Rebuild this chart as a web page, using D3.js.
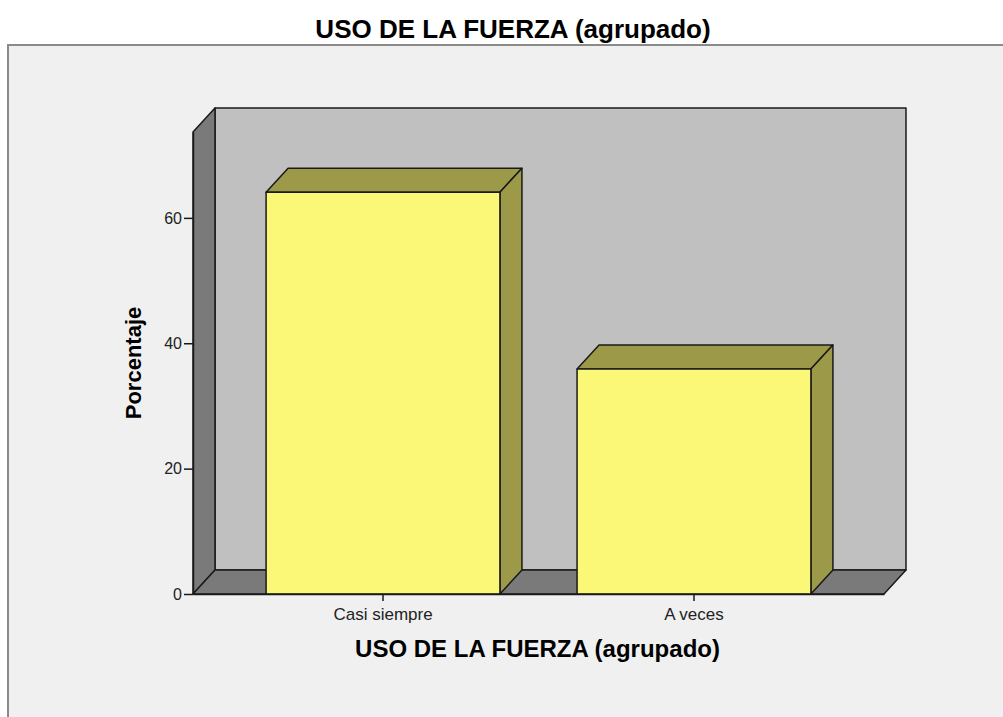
<!DOCTYPE html>
<html>
<head>
<meta charset="utf-8">
<script src="https://cdn.jsdelivr.net/npm/d3@7"></script>
<style>
  html, body { margin: 0; padding: 0; background: #ffffff; }
  svg { display: block; font-family: "Liberation Sans", Arial, sans-serif; }
</style>
</head>
<body>
<div id="chart"></div>
<script>
// data
var categories = ["Casi siempre", "A veces"];
var values = [64.1, 35.9];
var yTicks = [0, 20, 40, 60];
var title = "USO DE LA FUERZA (agrupado)";
var xTitle = "USO DE LA FUERZA (agrupado)";
var yTitle = "Porcentaje";

var width = 1003, height = 717;
var dx = 22, dy = 24; // 3d depth offset

var svg = d3.select("#chart").append("svg")
    .attr("width", width)
    .attr("height", height);

// outer frame
svg.append("rect")
    .attr("x", 8).attr("y", 45)
    .attr("width", 1010).attr("height", 700)
    .attr("fill", "#f0f0f0")
    .attr("stroke", "#8a8a8a")
    .attr("stroke-width", 2);

svg.append("text")
    .attr("x", 513).attr("y", 38)
    .attr("text-anchor", "middle")
    .style("font-size", "26px")
    .style("font-weight", "bold")
    .text(title);

var x = d3.scaleBand()
    .domain(categories)
    .range([193, 884])
    .paddingInner(0.248)
    .paddingOuter(0.235);

var y = d3.scaleLinear()
    .domain([0, 73.7])
    .range([594, 132]);

var x0 = x.range()[0], x1 = x.range()[1];
var yb = y(0), yt = y(y.domain()[1]);

function poly(pts) {
    return pts.map(function(p) { return p[0] + "," + p[1]; }).join(" ");
}

var walls = svg.append("g").attr("class", "walls")
    .attr("stroke", "#1a1a1a")
    .attr("stroke-width", 1.5)
    .attr("stroke-linejoin", "round");

// back wall
walls.append("polygon")
    .attr("points", poly([[x0 + dx, yt - dy], [x1 + dx, yt - dy], [x1 + dx, yb - dy], [x0 + dx, yb - dy]]))
    .attr("fill", "#c0c0c0");
// left wall
walls.append("polygon")
    .attr("points", poly([[x0, yt], [x0 + dx, yt - dy], [x0 + dx, yb - dy], [x0, yb]]))
    .attr("fill", "#7a7a7a");
// floor
walls.append("polygon")
    .attr("points", poly([[x0, yb], [x0 + dx, yb - dy], [x1 + dx, yb - dy], [x1, yb]]))
    .attr("fill", "#7a7a7a");

// bars
var bars = svg.append("g").attr("class", "bars")
    .selectAll("g")
    .data(categories)
    .enter().append("g")
    .attr("stroke", "#1a1a1a")
    .attr("stroke-width", 1.5)
    .attr("stroke-linejoin", "round");

bars.each(function(d, i) {
    var g = d3.select(this);
    var bx = x(d), bw = x.bandwidth(), top = y(values[i]);
    g.append("polygon")
        .attr("points", poly([[bx, top], [bx + dx, top - dy], [bx + bw + dx, top - dy], [bx + bw, top]]))
        .attr("fill", "#9c9a48");
    g.append("polygon")
        .attr("points", poly([[bx + bw, top], [bx + bw + dx, top - dy], [bx + bw + dx, yb - dy], [bx + bw, yb]]))
        .attr("fill", "#9c9a48");
    g.append("rect")
        .attr("x", bx).attr("y", top)
        .attr("width", bw).attr("height", yb - top)
        .attr("fill", "#fbf777");
});

// axes
var yAxis = svg.append("g")
    .attr("transform", "translate(" + x0 + ",0)")
    .call(d3.axisLeft(y).tickValues(yTicks).tickSize(9).tickPadding(2).tickSizeOuter(0));
yAxis.select(".domain").attr("stroke", "#1a1a1a").attr("stroke-width", 1.5);
yAxis.selectAll("line").attr("stroke", "#1a1a1a").attr("stroke-width", 1.5);
yAxis.selectAll("text")
    .style("font-size", "16px")
    .attr("fill", "#222")
    .style("font-family", "\"Liberation Sans\", Arial, sans-serif");

var xAxis = svg.append("g")
    .attr("transform", "translate(0," + yb + ")")
    .call(d3.axisBottom(x).tickSize(7).tickPadding(7).tickSizeOuter(0));
xAxis.select(".domain").attr("stroke", "#1a1a1a").attr("stroke-width", 1.5);
xAxis.selectAll("line").attr("stroke", "#1a1a1a").attr("stroke-width", 1.5);
xAxis.selectAll("text")
    .style("font-size", "17px")
    .attr("fill", "#222")
    .style("font-family", "\"Liberation Sans\", Arial, sans-serif");

svg.append("text")
    .attr("x", (x0 + x1) / 2 - 1).attr("y", 657)
    .attr("text-anchor", "middle")
    .style("font-size", "24px")
    .style("font-weight", "bold")
    .text(xTitle);

svg.append("text")
    .attr("transform", "translate(141," + ((y(0) + yt) / 2) + ") rotate(-90)")
    .attr("text-anchor", "middle")
    .style("font-size", "22px")
    .style("font-weight", "bold")
    .text(yTitle);
</script>
</body>
</html>
